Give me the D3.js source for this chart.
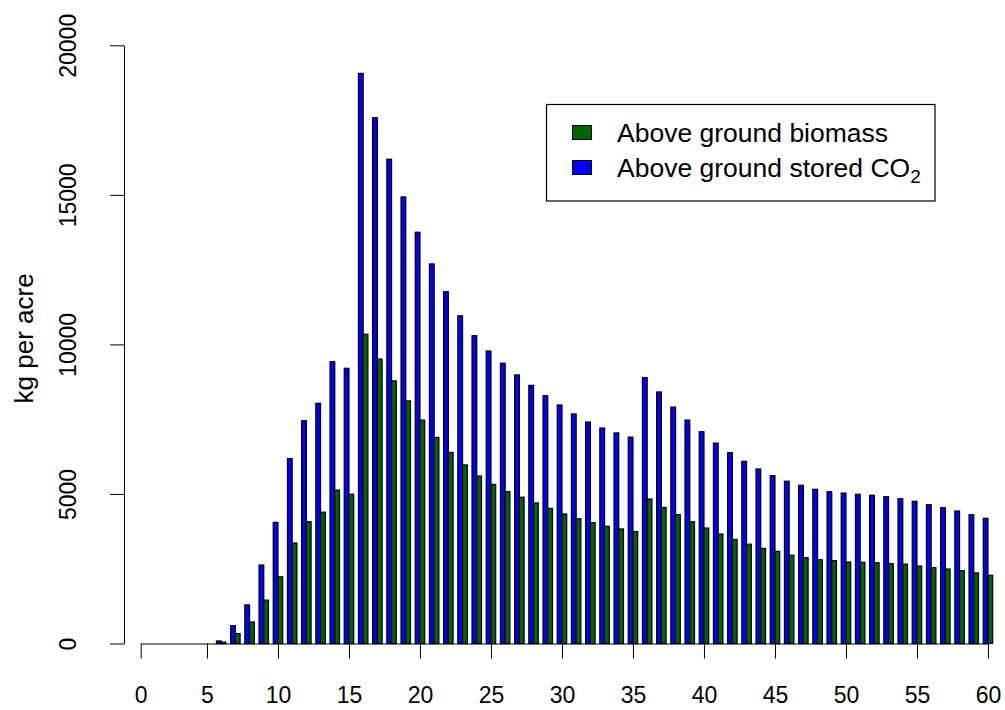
<!DOCTYPE html>
<html>
<head>
<meta charset="utf-8">
<script src="https://cdn.jsdelivr.net/npm/d3@7"></script>
<style>
  html, body { margin: 0; padding: 0; background: #fff; }
  svg { display: block; font-family: "Liberation Sans", Arial, Helvetica, sans-serif; }
</style>
</head>
<body>
<svg id="chart" width="1005" height="710"></svg>
<script>
// Stand age in years
const ages = [1,2,3,4,5,6,7,8,9,10,11,12,13,14,15,16,17,18,19,20,
              21,22,23,24,25,26,27,28,29,30,31,32,33,34,35,36,37,38,39,40,
              41,42,43,44,45,46,47,48,49,50,51,52,53,54,55,56,57,58,59,60];

// Above ground biomass, kg per acre
const biomass = [0,0,0,0,0,45,330,720,1450,2230,3360,4070,4390,5130,4990,10340,9510,8780,8110,7470,
                 6890,6390,5970,5600,5320,5080,4890,4700,4520,4330,4170,4040,3920,3830,3740,4830,4550,4310,4070,3860,
                 3660,3480,3320,3180,3080,2950,2870,2800,2770,2725,2715,2700,2670,2650,2590,2535,2490,2435,2360,2280];

// Above ground stored CO2, kg per acre
const storedCO2 = [0,0,0,0,0,85,595,1290,2625,4050,6185,7450,8030,9420,9200,19060,17580,16190,14930,13750,
                   12690,11760,10955,10290,9780,9370,8980,8630,8285,7975,7675,7405,7205,7040,6900,8890,8410,7905,7470,7080,
                   6700,6380,6090,5835,5610,5425,5290,5155,5075,5030,4990,4955,4910,4840,4755,4640,4540,4430,4305,4185];

const xTickLabels = ["0","5","10","15","20","25","30","35","40","45","50","55","60"];
const xTickAges   = [null,5,10,15,20,25,30,35,40,45,50,55,60];
const yTickValues = [0,5000,10000,15000,20000];

const seriesNames = ["Above ground biomass", "Above ground stored CO2"];
const seriesColors = ["#006400", "#0000ff"];

const svg = d3.select("#chart");
const plotLeft = 140.7, plotRight = 992.7, plotTop = 45.3, plotBottom = 643.5;

// one group per age: CO2 bar first, biomass bar second, gap of one bar between groups
const x = d3.scaleBand()
  .domain(ages)
  .range([plotLeft, plotRight])
  .paddingInner(1/3)
  .paddingOuter(1/6)
  .align(1);
const inner = d3.scaleBand()
  .domain(["co2", "bio"])
  .range([0, x.bandwidth()]);

const y = d3.scaleLinear().domain([0, 20000]).range([plotBottom, plotTop]);

const rows = ages.map((a, i) => ({ age: a, co2: storedCO2[i], bio: biomass[i] }));

const groups = svg.append("g").selectAll("g")
  .data(rows)
  .join("g")
  .attr("transform", d => `translate(${x(d.age)},0)`);

groups.selectAll("rect")
  .data(d => [{ key: "co2", v: d.co2 }, { key: "bio", v: d.bio }])
  .join("rect")
  .attr("x", d => inner(d.key))
  .attr("width", inner.bandwidth())
  .attr("y", d => y(d.v))
  .attr("height", d => y(0) - y(d.v))
  .attr("fill", d => d.key === "co2" ? seriesColors[1] : seriesColors[0])
  .attr("stroke", "#000")
  .attr("stroke-width", 1.2);

// x axis: "0" sits at the start of the bar area, the rest at group centres
const xTickPos = xTickAges.map(a => a === null ? plotLeft : x(a) + x.bandwidth() / 2);
const xTicks = d3.scaleOrdinal().domain(xTickLabels).range(xTickPos);
const xAxis = svg.append("g")
  .attr("transform", `translate(0,${plotBottom})`)
  .call(d3.axisBottom(xTicks).tickSizeInner(15).tickSizeOuter(0).tickPadding(28));
xAxis.selectAll("text").attr("font-size", 23).attr("fill", "#000").attr("font-family", null);
xAxis.selectAll("line,path").attr("stroke", "#000");

// y axis with labels running along the axis
const yAxis = svg.append("g")
  .attr("transform", `translate(124,0)`)
  .call(d3.axisLeft(y).tickValues(yTickValues).tickFormat(d3.format("d")).tickSizeInner(14).tickSizeOuter(0));
yAxis.selectAll("line,path").attr("stroke", "#000");
yAxis.selectAll("text")
  .attr("font-size", 23).attr("fill", "#000").attr("font-family", null)
  .attr("x", null).attr("dy", "0.35em")
  .attr("text-anchor", "middle")
  .attr("transform", "translate(-56,0) rotate(-90)");

svg.append("text")
  .attr("transform", `translate(24,${(plotTop + plotBottom) / 2 - 6}) rotate(-90)`)
  .attr("dy", "0.35em")
  .attr("text-anchor", "middle")
  .attr("font-size", 26)
  .text("kg per acre");

// legend
const lg = svg.append("g");
lg.append("rect")
  .attr("x", 546.5).attr("y", 104.5).attr("width", 388.5).attr("height", 96.5)
  .attr("fill", "#fff").attr("stroke", "#000").attr("stroke-width", 1.2);
const items = lg.selectAll("g.item")
  .data(seriesNames.map((n, i) => ({ name: n, color: seriesColors[i], row: i })))
  .join("g")
  .attr("class", "item")
  .attr("transform", d => `translate(0,${133 + d.row * 35})`);
items.append("rect")
  .attr("x", 572.5).attr("y", -7.5).attr("width", 19).attr("height", 14)
  .attr("fill", d => d.color).attr("stroke", "#000");
const labels = items.append("text")
  .attr("x", 617).attr("dy", "0.35em").attr("font-size", 26.5);
labels.each(function(d) {
  const t = d3.select(this);
  if (d.name.endsWith("CO2")) {
    t.append("tspan").text(d.name.slice(0, -1));
    t.append("tspan").attr("font-size", 19).attr("dy", "0.3em").text("2");
  } else {
    t.text(d.name);
  }
});
</script>
</body>
</html>
